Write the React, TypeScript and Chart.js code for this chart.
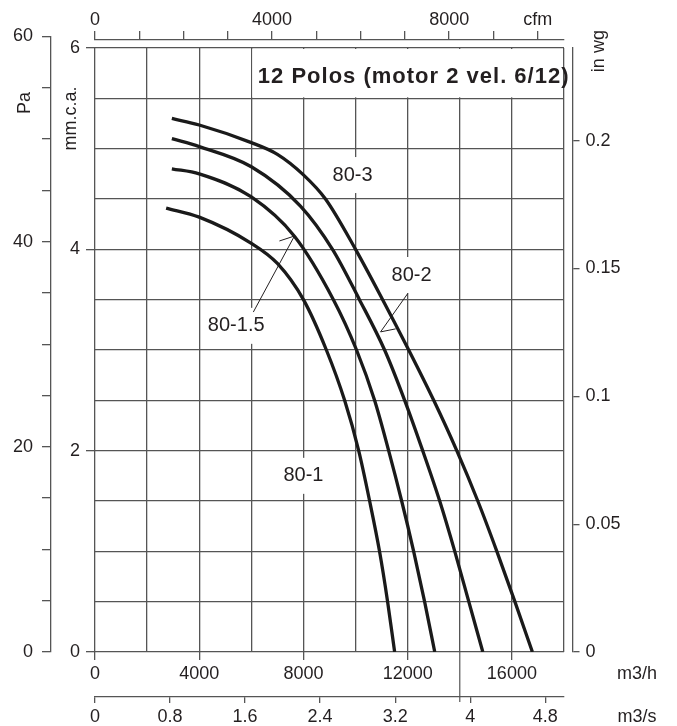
import { useEffect, useRef } from 'react';
import { Chart, registerables } from 'chart.js';

Chart.register(...registerables);

const FONT = "'Liberation Sans', Arial, Helvetica, sans-serif";
const INK = '#231f20';
const GRID = '#555555';
const CURVE = '#1a1a1a';

// unit conversions
const PA_PER_MM = 9.81;
const MM_PER_INWG = 25.4;
const M3H_PER_CFM = 1.699;
const M3H_PER_M3S = 3600;

const M3H_MAX = 18000;
const MM_MAX = 6;
const PA_MAX = 60;

// axes / ticks
const M3H_GRID = [0, 2000, 4000, 6000, 8000, 10000, 12000, 14000, 16000, 18000];
const M3H_LABELLED = [0, 4000, 8000, 12000, 16000];
const MM_GRID = [0, 0.5, 1, 1.5, 2, 2.5, 3, 3.5, 4, 4.5, 5, 5.5, 6];
const MM_LABELLED = [0, 2, 4, 6];
const PA_TICKS = [0, 5, 10, 15, 20, 25, 30, 35, 40, 45, 50, 55, 60];
const PA_LABELLED = [0, 20, 40, 60];
const INWG_TICKS = [0, 0.05, 0.1, 0.15, 0.2];
const INWG_LABELS = ['0', '0.05', '0.1', '0.15', '0.2'];
const CFM_TICKS = [0, 1000, 2000, 3000, 4000, 5000, 6000, 7000, 8000, 9000, 10000];
const CFM_LABELS = ['0', '', '', '', '4000', '', '', '', '8000', '', 'cfm'];
const M3S_TICKS = [0, 0.8, 1.6, 2.4, 3.2, 4, 4.8];
const M3S_LABELS = ['0', '0.8', '1.6', '2.4', '3.2', '4', '4.8'];

// curves (flow m3/h, pressure mm.c.a.)
const CURVE_NAMES = ['80-1', '80-1.5', '80-2', '80-3'];
const FLOW_80_1 = [2730, 4000, 6000, 7000, 8000, 8880, 9580, 10120, 10540, 10920, 11230, 11500];
const PRESS_80_1 = [4.41, 4.32, 4.06, 3.86, 3.5, 3.0, 2.5, 2.0, 1.5, 1.0, 0.5, 0];
const FLOW_80_15 = [2950, 4000, 6000, 7654, 9150, 10038, 10730, 11270, 11770, 12230, 12650, 13040];
const PRESS_80_15 = [4.8, 4.75, 4.52, 4.13, 3.5, 3.0, 2.5, 2.0, 1.5, 1.0, 0.5, 0];
const FLOW_80_2 = [2950, 4000, 6000, 7885, 9115, 10150, 11115, 11885, 12577, 13230, 13808, 14346, 14885];
const PRESS_80_2 = [5.1, 5.02, 4.82, 4.43, 4.0, 3.5, 3.0, 2.5, 2.0, 1.5, 1.0, 0.5, 0];
const FLOW_80_3 = [2950, 4000, 6000, 7000, 8000, 8846, 10000, 11040, 12040, 13000, 13885, 14692, 15423, 16115, 16788];
const PRESS_80_3 = [5.3, 5.235, 5.06, 4.944, 4.74, 4.5, 4.0, 3.5, 3.0, 2.5, 2.0, 1.5, 1.0, 0.5, 0];

const FLOWS = [FLOW_80_1, FLOW_80_15, FLOW_80_2, FLOW_80_3];
const PRESSES = [PRESS_80_1, PRESS_80_15, PRESS_80_2, PRESS_80_3];

// curve labels (data coordinates)
const LABEL_FLOW = [8000, 5420, 12150, 9885];
const LABEL_PRESS = [1.75, 3.24, 3.745, 4.738];

// leader lines: [fromFlow, fromPress, tipFlow, tipPress, barbFlow, barbPress]
const LEADER_80_15 = [6077, 3.377, 7654, 4.132, 7077, 4.083];
const LEADER_80_2 = [12000, 3.56, 10960, 3.18, 11540, 3.21];
const LEADERS = [LEADER_80_15, LEADER_80_2];

const TITLE = '12 Polos (motor 2 vel. 6/12)';
const TITLE_BOX_FLOW = 6000;
const TITLE_BOX_PRESS = 5.5;
const TITLE_FLOW = 6250;
const TITLE_PRESS = 5.652;

const ARTIFACT_FLOW = 14000;

const decorPlugin = {
  id: 'fanDecor',
  afterLayout(chart: any) {
    const pa = chart.scales.pa;
    const mm = chart.scales.y;
    if (!pa || !mm) return;
    pa.top = mm.getPixelForValue(PA_MAX / PA_PER_MM);
    pa.bottom = mm.getPixelForValue(0);
    pa.height = pa.bottom - pa.top;
    pa.configure();
    pa._gridLineItems = null;
    pa._labelItems = null;
  },
  beforeDatasetsDraw(chart: any) {
    const { ctx, scales } = chart;
    const xs = scales.x;
    const ys = scales.y;
    const X = (v: number) => xs.getPixelForValue(v);
    const Y = (v: number) => ys.getPixelForValue(v);
    ctx.save();
    // title panel
    const l = X(TITLE_BOX_FLOW) + 1;
    const r = X(M3H_MAX) - 1;
    const t = Y(MM_MAX) + 1;
    const b = Y(TITLE_BOX_PRESS) - 1;
    ctx.fillStyle = '#ffffff';
    ctx.fillRect(l, t, r - l, b - t);
    ctx.fillStyle = INK;
    ctx.font = `bold 22px ${FONT}`;
    (ctx as any).letterSpacing = '1px';
    ctx.textAlign = 'left';
    ctx.textBaseline = 'alphabetic';
    ctx.fillText(TITLE, X(TITLE_FLOW), Y(TITLE_PRESS));
    (ctx as any).letterSpacing = '0px';

    // curve labels
    ctx.font = `20px ${FONT}`;
    ctx.textAlign = 'center';
    ctx.textBaseline = 'middle';
    CURVE_NAMES.forEach((name, i) => {
      const cx = X(LABEL_FLOW[i]);
      const cy = Y(LABEL_PRESS[i]);
      const w = ctx.measureText(name).width;
      ctx.fillStyle = '#ffffff';
      ctx.fillRect(cx - w / 2 - 3, cy - 18, w + 6, 36);
      ctx.fillStyle = INK;
      ctx.fillText(name, cx, cy);
    });

    // leaders
    ctx.strokeStyle = INK;
    ctx.lineWidth = 1;
    LEADERS.forEach((ld) => {
      ctx.beginPath();
      ctx.moveTo(X(ld[0]), Y(ld[1]));
      ctx.lineTo(X(ld[2]), Y(ld[3]));
      ctx.lineTo(X(ld[4]), Y(ld[5]));
      ctx.stroke();
    });
    ctx.restore();
  },
  afterDraw(chart: any) {
    const { ctx, scales } = chart;
    const xs = scales.x;
    const ys = scales.y;
    const pa = scales.pa;
    const inwg = scales.inwg;
    const m3s = scales.m3s;
    ctx.save();
    // stray grid line through the lower axes
    ctx.strokeStyle = GRID;
    ctx.lineWidth = 1.2;
    ctx.beginPath();
    ctx.moveTo(xs.getPixelForValue(ARTIFACT_FLOW), ys.getPixelForValue(0));
    ctx.lineTo(xs.getPixelForValue(ARTIFACT_FLOW), m3s.top + 5);
    ctx.stroke();

    ctx.fillStyle = INK;
    ctx.font = `18px ${FONT}`;
    ctx.textAlign = 'center';
    ctx.textBaseline = 'middle';
    ctx.fillText('m3/h', chart.width - 40, xs.top + 22);
    ctx.fillText('m3/s', chart.width - 40, m3s.top + 20);

    const vtext = (txt: string, x: number, y: number) => {
      ctx.save();
      ctx.translate(x, y);
      ctx.rotate(-Math.PI / 2);
      ctx.fillText(txt, 0, 0);
      ctx.restore();
    };
    vtext('Pa', pa.left + 25, pa.getPixelForValue(53.5));
    vtext('mm.c.a.', ys.left + 20, ys.getPixelForValue(5.3));
    vtext('in wg', inwg.left + 26.5, inwg.getPixelForValue(0.235));
    ctx.restore();
  },
};

const tickFont = { family: FONT, size: 18 };
const hidden = 'rgba(0,0,0,0)';

export default function App() {
  const ref = useRef<HTMLCanvasElement>(null);
  useEffect(() => {
    const canvas = ref.current;
    if (!canvas) return;
    const datasets = CURVE_NAMES.map((name, i) => ({
      label: name,
      data: FLOWS[i].map((x, j) => ({ x, y: PRESSES[i][j] })),
      borderColor: CURVE,
      borderWidth: 3.3,
      pointRadius: 0,
      fill: false,
      cubicInterpolationMode: 'monotone' as const,
      xAxisID: 'x',
      yAxisID: 'y',
    }));
    const chart = new Chart(canvas, {
      type: 'line',
      data: { datasets },
      plugins: [decorPlugin],
      options: {
        responsive: false,
        animation: false,
        devicePixelRatio: 1,
        events: [],
        layout: { padding: 0 },
        plugins: {
          legend: { display: false },
          tooltip: { enabled: false },
          title: { display: false },
        },
        scales: {
          x: {
            type: 'linear',
            position: 'bottom',
            weight: 0,
            min: 0,
            max: M3H_MAX,
            bounds: 'data',
            afterBuildTicks: (s: any) => { s.ticks = M3H_GRID.map((v) => ({ value: v })); },
            afterFit: (s: any) => { s.height = 45; },
            grid: {
              color: GRID,
              lineWidth: 1.3,
              tickLength: 8,
              tickWidth: 1.3,
              tickColor: (c: any) => (c.tick && M3H_LABELLED.includes(c.tick.value) ? GRID : hidden),
            },
            border: { display: false },
            ticks: {
              autoSkip: false,
              maxRotation: 0,
              padding: 3,
              font: tickFont,
              color: INK,
              callback: (v: any) => (M3H_LABELLED.includes(Number(v)) ? String(v) : ''),
            },
          },
          m3s: {
            type: 'linear',
            position: 'bottom',
            weight: 1,
            min: 0,
            max: M3H_MAX / M3H_PER_M3S,
            bounds: 'data',
            afterBuildTicks: (s: any) => { s.ticks = M3S_TICKS.map((v) => ({ value: v })); },
            afterFit: (s: any) => { s.height = 29; },
            grid: { drawOnChartArea: false, color: GRID, lineWidth: 1.3, tickLength: 6 },
            border: { display: true, color: GRID, width: 1.3 },
            ticks: {
              autoSkip: false,
              maxRotation: 0,
              padding: 3,
              font: tickFont,
              color: INK,
              callback: (_v: any, i: number) => M3S_LABELS[i],
            },
          },
          xGap: {
            type: 'linear',
            position: 'top',
            weight: 0,
            min: 0,
            max: 1,
            afterFit: (s: any) => { s.height = 8.5; },
            grid: { display: false },
            border: { display: false },
            ticks: { display: false },
          },
          cfm: {
            type: 'linear',
            position: 'top',
            weight: 1,
            min: 0,
            max: M3H_MAX / M3H_PER_CFM,
            bounds: 'data',
            afterBuildTicks: (s: any) => { s.ticks = CFM_TICKS.map((v) => ({ value: v })); },
            afterFit: (s: any) => { s.height = 39.5; },
            grid: { drawOnChartArea: false, color: GRID, lineWidth: 1.3, tickLength: 8.5 },
            border: { display: true, color: GRID, width: 1.3 },
            ticks: {
              autoSkip: false,
              maxRotation: 0,
              padding: 0,
              font: tickFont,
              color: INK,
              callback: (_v: any, i: number) => CFM_LABELS[i],
            },
          },
          y: {
            type: 'linear',
            position: 'left',
            weight: 0,
            min: 0,
            max: MM_MAX,
            bounds: 'data',
            afterBuildTicks: (s: any) => { s.ticks = MM_GRID.map((v) => ({ value: v })); },
            afterFit: (s: any) => { s.width = 44; },
            grid: {
              color: GRID,
              lineWidth: 1.3,
              tickLength: 9,
              tickWidth: 1.3,
              tickColor: (c: any) => (c.tick && MM_LABELLED.includes(c.tick.value) ? GRID : hidden),
            },
            border: { display: false },
            ticks: {
              autoSkip: false,
              padding: 6,
              font: tickFont,
              color: INK,
              callback: (v: any) => (MM_LABELLED.includes(Number(v)) ? String(v) : ''),
            },
          },
          pa: {
            type: 'linear',
            position: 'left',
            weight: 1,
            min: 0,
            max: PA_MAX,
            bounds: 'data',
            afterBuildTicks: (s: any) => { s.ticks = PA_TICKS.map((v) => ({ value: v })); },
            afterFit: (s: any) => { s.width = 51; },
            grid: { drawOnChartArea: false, color: GRID, lineWidth: 1.3, tickLength: 9 },
            border: { display: true, color: GRID, width: 1.3 },
            ticks: {
              autoSkip: false,
              padding: 9,
              font: tickFont,
              color: INK,
              callback: (v: any) => (PA_LABELLED.includes(Number(v)) ? String(v) : ''),
            },
          },
          yGap: {
            type: 'linear',
            position: 'right',
            weight: 0,
            min: 0,
            max: 1,
            afterFit: (s: any) => { s.width = 8.5; },
            grid: { display: false },
            border: { display: false },
            ticks: { display: false },
          },
          inwg: {
            type: 'linear',
            position: 'right',
            weight: 1,
            min: 0,
            max: MM_MAX / MM_PER_INWG,
            bounds: 'data',
            afterBuildTicks: (s: any) => { s.ticks = INWG_TICKS.map((v) => ({ value: v })); },
            afterFit: (s: any) => { s.width = 104.5; },
            grid: { drawOnChartArea: false, color: GRID, lineWidth: 1.3, tickLength: 7 },
            border: { display: true, color: GRID, width: 1.3 },
            ticks: {
              autoSkip: false,
              padding: 6,
              font: tickFont,
              color: INK,
              callback: (_v: any, i: number) => INWG_LABELS[i],
            },
          },
        },
      } as any,
    });
    return () => chart.destroy();
  }, []);
  return (
    <div style={{ position: 'absolute', left: 0, top: 0, width: 677, height: 726, background: '#ffffff' }}>
      <canvas ref={ref} width={677} height={726} style={{ display: 'block', width: 677, height: 726 }} />
    </div>
  );
}
